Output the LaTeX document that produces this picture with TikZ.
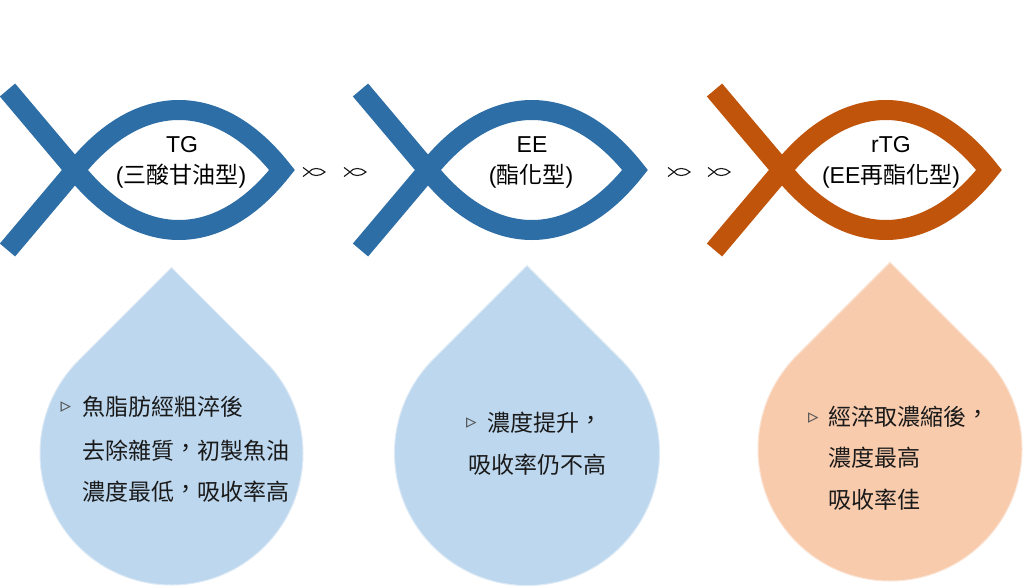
\documentclass[tikz,border=0pt]{standalone}
\usepackage{fontspec}
\setmainfont{Liberation Sans}
\newfontfamily\cjkfont{Noto Sans CJK TC}
\newfontfamily\symfont{DejaVu Sans}
\definecolor{fishblue}{HTML}{2E6EA6}
\definecolor{fishorange}{HTML}{C0540A}
\definecolor{dropblue}{HTML}{BDD7EE}
\definecolor{droporange}{HTML}{F8CBAD}
\definecolor{textdark}{HTML}{1A1A1A}
\newcommand\tccomma{\raisebox{0.12em}{，}}
\newcommand\drawbigfish[3]{%
  \draw[fishline,draw=#3,shift={(#1,#2)}]
    (-67.5,-80) -- (0,0) .. controls (64,80) and (144,80) .. (207,0)
    .. controls (144,-80) and (64,-80) .. (0,0) -- (-67.5,80);}
\newcommand\drawsmallfish[2]{%
  \draw[smallfishline,shift={(#1,#2)}]
    (0,-4.5) -- (6,0) .. controls (9,4.7) and (17,4.7) .. (22,0)
    .. controls (17,-4.7) and (9,-4.7) .. (6,0) -- (0,4.5);}
\begin{document}
\begin{tikzpicture}[x=1pt,y=1pt,
  fishline/.style={line width=20pt,line join=miter,miter limit=10,line cap=butt},
  smallfishline/.style={line width=1.1pt,draw=textdark,line join=miter},
  fishtext/.style={font=\fontsize{23}{27}\selectfont,text=black,inner sep=0pt,anchor=base},
  droptext/.style={font=\cjkfont\fontsize{23}{27}\selectfont,text=textdark,inner sep=0pt,anchor=base west},
  bullet/.style={font=\symfont\fontsize{21}{24}\selectfont,text=textdark!75,inner sep=0pt,anchor=center},
  bluedrop/.style={fill=dropblue,draw=dropblue!50!white,line width=1pt},
  orangedrop/.style={fill=droporange,draw=droporange!50!white,line width=1pt}]
\useasboundingbox (0,0) rectangle (1024,-588);
\fill[white] (0,0) rectangle (1024,-588);

% drops
\path[bluedrop] (171.5,-267.5) -- ([shift={(45:131.5)}]171.5,-453.5)
  arc[start angle=45,end angle=-225,radius=131.5] -- cycle;
\path[bluedrop] (527,-265.6) -- ([shift={(45:132.5)}]527,-453)
  arc[start angle=45,end angle=-225,radius=132.5] -- cycle;
\path[orangedrop] (890,-262.3) -- ([shift={(45:132)}]890,-449)
  arc[start angle=45,end angle=-225,radius=132] -- cycle;

% big fish
\drawbigfish{75}{-170}{fishblue}
\drawbigfish{428}{-170}{fishblue}
\drawbigfish{782}{-170}{fishorange}

% small fish
\drawsmallfish{303}{-172}
\drawsmallfish{344}{-172}
\drawsmallfish{668}{-172}
\drawsmallfish{708}{-172}

% fish texts
\node[fishtext] (t1a) at (182,-153) {TG};
\node[fishtext] (t1b) at (181,-183) {(\cjkfont 三酸甘油型\rmfamily)};
\node[fishtext] (t2a) at (532,-153) {EE};
\node[fishtext] (t2b) at (531,-183) {(\cjkfont 酯化型\rmfamily)};
\node[fishtext] (t3a) at (891,-153) {rTG};
\node[fishtext] (t3b) at (891,-183) {(EE\cjkfont 再酯化型\rmfamily)};

% drop texts
\node[bullet] (b1) at (66,-407) {▹};
\node[droptext] (d1a) at (82,-415) {魚脂肪經粗淬後};
\node[droptext] (d1b) at (82,-459) {去除雜質\tccomma 初製魚油};
\node[droptext] (d1c) at (82,-500) {濃度最低\tccomma 吸收率高};

\node[bullet] (b2) at (471.5,-423.5) {▹};
\node[droptext] (d2a) at (487,-431) {濃度提升\tccomma};
\node[droptext] (d2b) at (468,-473) {吸收率仍不高};

\node[bullet] (b3) at (813.5,-418.5) {▹};
\node[droptext] (d3a) at (828,-425) {經淬取濃縮後\tccomma};
\node[droptext] (d3b) at (828,-466) {濃度最高};
\node[droptext] (d3c) at (828,-508) {吸收率佳};
\end{tikzpicture}
\end{document}
